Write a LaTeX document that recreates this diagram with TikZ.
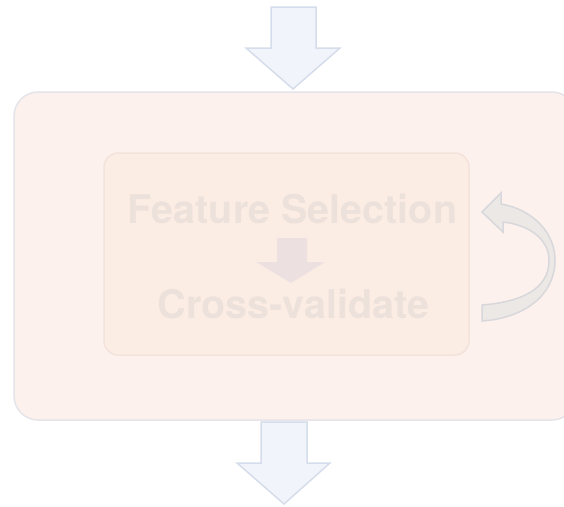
\documentclass[tikz,border=0pt]{standalone}
\usepackage{fontspec}
\newfontfamily\heros{TeX Gyre Heros}
\usepackage{tikz}
\definecolor{outerfill}{HTML}{FCF1EC}
\definecolor{outerline}{HTML}{E4E4EA}
\definecolor{innerfill}{HTML}{FCEDE4}
\definecolor{innerline}{HTML}{F3E3DC}
\definecolor{faint}{HTML}{EDE1DB}
\definecolor{smallarrow}{HTML}{ECE1E0}
\definecolor{blockfill}{HTML}{F1F4FA}
\definecolor{blockline}{HTML}{D6DDEA}
\definecolor{loopfill}{HTML}{ECE8E5}
\definecolor{loopline}{HTML}{D8D8DC}
\tikzset{stagebox/.style={draw=outerline, fill=outerfill, line width=1.5pt, rounded corners=24pt}}
\tikzset{loopbox/.style={draw=innerline, fill=innerfill, line width=1.5pt, rounded corners=14pt}}
\tikzset{steptext/.style={text=faint, font=\heros\bfseries\fontsize{39.5}{44}\selectfont, anchor=base, inner sep=0pt}}
\tikzset{blockarrow/.style={draw=blockline, fill=blockfill, line width=1.5pt, line join=miter}}

\begin{document}
\begin{tikzpicture}[x=1pt, y=-1pt]
        \useasboundingbox (0,0) rectangle (564,506);
        \draw [blockarrow] (271,7) -- (316,7) -- (316,48) -- (340,48) -- (293,89) -- (246,48) -- (271,48) -- cycle;
        \node [stagebox, minimum width=562pt, minimum height=328pt] (pipeline) at (295,256) {};
        \node [loopbox, minimum width=365pt, minimum height=202pt] (loop) at (286.5,254) {};
        \node [steptext] (fsel) at (292.5,223) {Feature Selection};
        \node [steptext] (cv) at (293.5,318) {Cross-validate};
        \fill [smallarrow] (277,238) -- (307,238) -- (307,262) -- (325,262) -- (291,283) -- (256,262) -- (277,262) -- cycle;
        \draw [draw=loopline, fill=loopfill, line width=1.5pt] (482,212) -- (501,193) -- (501,204) .. controls (535,210) and (556,235) .. (555,262) .. controls (554,295) and (525,318) .. (482,321) -- (482,305) .. controls (520,302) and (548,290) .. (549,262) .. controls (550,240) and (530,225) .. (503,222) -- (503,232) -- cycle;
        \draw [blockarrow] (261,422) -- (307,422) -- (307,463) -- (330,463) -- (284,504) -- (237,463) -- (261,463) -- cycle;
\end{tikzpicture}
\end{document}
